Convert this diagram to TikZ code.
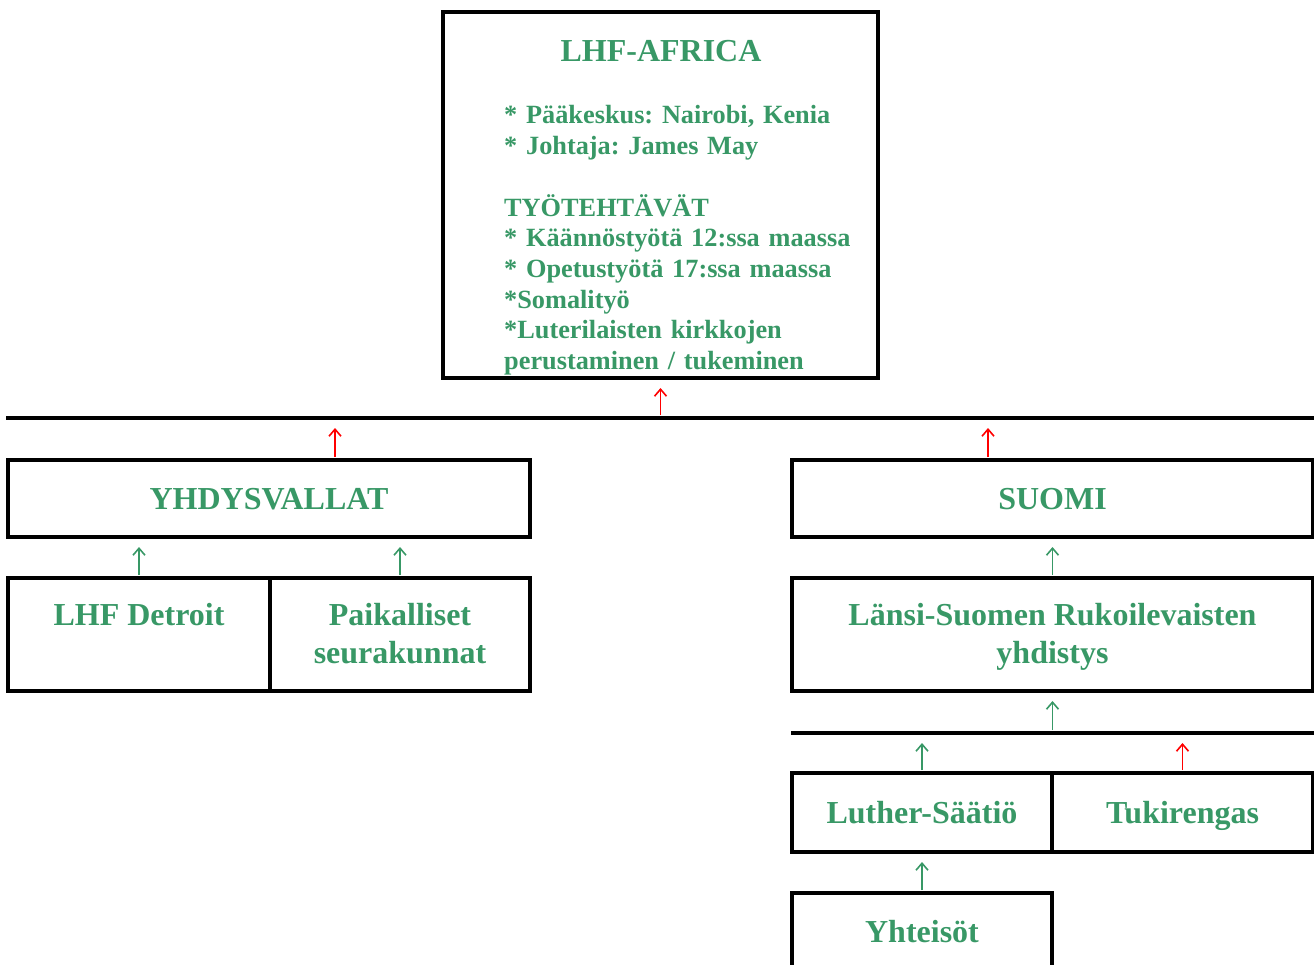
\documentclass[tikz,border=0pt]{standalone}
\usepackage{fontspec}
\setmainfont{Liberation Serif}
\usetikzlibrary{arrows.meta}
\definecolor{lhfgreen}{RGB}{56,152,102}
\definecolor{lhfred}{RGB}{255,0,0}
\frenchspacing
\tikzset{
  orgbox/.style={draw, line width=4pt, inner sep=0pt, outer sep=0pt, anchor=north west,
    text=lhfgreen, align=center, font=\fontsize{32}{38}\selectfont\bfseries},
  oneline/.style={text height=24pt, text depth=3pt},
  orgtext/.style={inner sep=0pt, text=lhfgreen, font=\fontsize{26.3}{30.7}\selectfont\bfseries},
  bar/.style={line width=4pt},
  uparrow/.style={-{Straight Barb[length=7pt,width=12pt]}, line width=1.6pt,
    shorten <=3pt, shorten >=10pt},
}
\newcommand{\twolines}[2]{\vphantom{Ä}#1\\\vphantom{y}#2}
\begin{document}
\begin{tikzpicture}[x=1pt,y=-1pt]
\useasboundingbox (0,0) rectangle (1314,965);
\clip (0,0) rectangle (1314,965);
% head office
\node[orgbox, minimum width=435pt, minimum height=366pt] (africa) at (443,12) {};
\node[orgtext, font=\fontsize{32}{38}\selectfont\bfseries, anchor=base] (africatitle) at (661,62) {LHF-AFRICA};
\node[orgtext, anchor=base west, text width=370pt, align=left] (africatext) at (504,124)
  {* Pääkeskus: Nairobi, Kenia\\
   {}* Johtaja: James May\\[30.7pt]
   TYÖTEHTÄVÄT\\
   {}* Käännöstyötä 12:ssa maassa\\
   {}* Opetustyötä 17:ssa maassa\\
   {}*Somalityö\\
   {}*Luterilaisten kirkkojen\\
   perustaminen / tukeminen};
% main bar
\coordinate (barL) at (6,418);
\coordinate (barR) at (1314,418);
\draw[bar] (barL) -- (barR);
% countries
\node[orgbox, oneline, minimum width=522pt, minimum height=77pt] (usa) at (8,460) {YHDYSVALLAT};
\node[orgbox, oneline, minimum width=521pt, minimum height=77pt] (suomi) at (792,460) {SUOMI};
\node[orgbox, minimum width=262pt, minimum height=113pt] (detroit) at (8,578) {\twolines{LHF Detroit}{}};
\node[orgbox, minimum width=260pt, minimum height=113pt] (paikalliset) at (270,578) {\twolines{Paikalliset}{seurakunnat}};
\node[orgbox, minimum width=521pt, minimum height=113pt] (lansi) at (792,578) {\twolines{Länsi-Suomen Rukoilevaisten}{yhdistys}};
% lower bar
\coordinate (subL) at (791,733);
\coordinate (subR) at (1314,733);
\draw[bar] (subL) -- (subR);
\node[orgbox, oneline, minimum width=260pt, minimum height=79pt] (luther) at (792,773) {Luther-Säätiö};
\node[orgbox, oneline, minimum width=261pt, minimum height=79pt] (tuki) at (1052,773) {Tukirengas};
\node[orgbox, oneline, minimum width=260pt, minimum height=78pt] (yhteisot) at (792,893) {Yhteisöt};
% arrows
\draw[uparrow, lhfred] (africa.south |- barL) -- (africa.south);
\draw[uparrow, lhfred] ([xshift=66pt]usa.north) -- ([xshift=66pt]usa.north |- barL);
\draw[uparrow, lhfred] ([xshift=-64.5pt]suomi.north) -- ([xshift=-64.5pt]suomi.north |- barL);
\draw[uparrow, lhfgreen] (detroit.north) -- (detroit.north |- usa.south);
\draw[uparrow, lhfgreen] (paikalliset.north) -- (paikalliset.north |- usa.south);
\draw[uparrow, lhfgreen] (lansi.north) -- (suomi.south);
\draw[uparrow, lhfgreen] (lansi.south |- subL) -- (lansi.south);
\draw[uparrow, lhfgreen] (luther.north) -- (luther.north |- subL);
\draw[uparrow, lhfred] (tuki.north) -- (tuki.north |- subL);
\draw[uparrow, lhfgreen] (yhteisot.north) -- (luther.south);
\end{tikzpicture}
\end{document}
